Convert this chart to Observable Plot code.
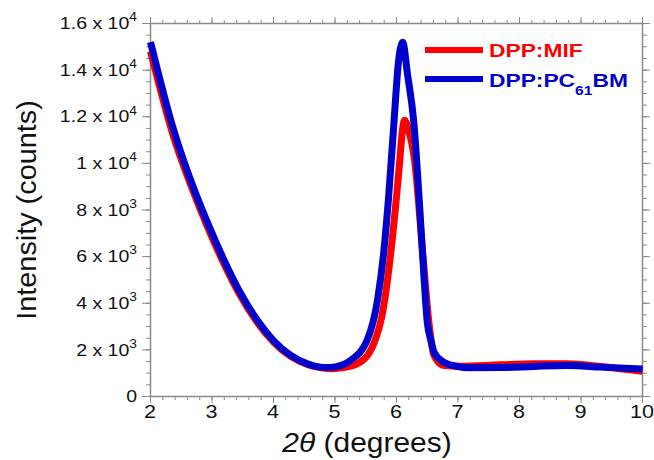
<!DOCTYPE html>
<html>
<head>
<meta charset="utf-8">
<script src="https://cdn.jsdelivr.net/npm/d3@7"></script>
<script src="https://cdn.jsdelivr.net/npm/@observablehq/plot@0.6"></script>
<style>
  html, body { margin: 0; padding: 0; background: #fff; }
  svg { font-family: "Liberation Sans", Arial, sans-serif; }
</style>
</head>
<body>
<div id="chart"></div>
<script>
// ---- data ----
const mifX = [2.00, 2.38, 2.65, 2.92, 3.19, 3.46, 3.73, 4.00, 4.28, 4.55, 4.76, 4.95, 5.10, 5.36, 5.63, 5.79, 5.90, 6.04, 6.10, 6.13, 6.20, 6.30, 6.40, 6.47, 6.53, 6.61, 6.77, 7.04, 7.69, 8.23, 8.77, 9.32, 10.00];
const mifY = [14800, 11100, 9100, 7320, 5720, 4330, 3200, 2340, 1720, 1380, 1240, 1190, 1230, 1400, 2260, 3830, 6000, 9700, 11500, 11850, 11400, 10000, 7000, 4800, 3100, 1760, 1330, 1300, 1360, 1400, 1400, 1290, 1080];

const pcbmX = [2.00, 2.38, 2.65, 2.92, 3.19, 3.46, 3.73, 4.00, 4.28, 4.55, 4.76, 4.87, 5.00, 5.25, 5.52, 5.69, 5.79, 5.87, 5.96, 6.03, 6.10, 6.18, 6.28, 6.38, 6.45, 6.50, 6.56, 6.61, 6.77, 7.00, 7.15, 7.70, 8.23, 8.77, 9.32, 10.00];
const pcbmY = [15200, 11400, 9300, 7500, 5880, 4450, 3300, 2400, 1760, 1400, 1260, 1240, 1270, 1545, 2400, 4120, 6130, 8500, 11800, 14300, 15200, 13800, 11800, 8000, 5000, 3200, 2400, 1900, 1470, 1280, 1230, 1240, 1290, 1330, 1260, 1180];

const seriesNames = ["DPP:MIF", "DPP:PC61BM"];
const seriesColors = ["#ff0000", "#0000cc"];

const xMajor = [2, 3, 4, 5, 6, 7, 8, 9, 10];
const xMinor = d3.range(2, 10.001, 0.2);
const yMajor = [0, 2000, 4000, 6000, 8000, 10000, 12000, 14000, 16000];
const yMinor = d3.range(0, 16001, 500);
const yMantissa = ["0", "2 x 10", "4 x 10", "6 x 10", "8 x 10", "1 x 10", "1.2 x 10", "1.4 x 10", "1.6 x 10"];
const yExponent = ["", "3", "3", "3", "3", "4", "4", "4", "4"];

const mif = mifX.map((x, i) => ({x, y: mifY[i]}));
const pcbm = pcbmX.map((x, i) => ({x, y: pcbmY[i]}));

const gray = "#8a8a8a";

const svg = Plot.plot({
  width: 654,
  height: 460,
  marginLeft: 150,
  marginRight: 12,
  marginTop: 23,
  marginBottom: 64,
  style: {fontFamily: '"Liberation Sans", Arial, sans-serif', background: "#fff"},
  x: {domain: [2, 10]},
  y: {domain: [0, 16000]},
  marks: [
    // minor ticks
    Plot.axisX({anchor: "bottom", ticks: xMinor, tickSize: 4, tickFormat: () => "", stroke: gray, label: null}),
    Plot.axisX({anchor: "top", ticks: xMinor, tickSize: 4, tickFormat: () => "", stroke: gray, label: null}),
    Plot.axisY({anchor: "left", ticks: yMinor, tickSize: 4, tickFormat: () => "", stroke: gray, label: null}),
    Plot.axisY({anchor: "right", ticks: yMinor, tickSize: 4, tickFormat: () => "", stroke: gray, label: null}),
    // major ticks
    Plot.axisX({anchor: "top", ticks: xMajor, tickSize: 7, tickFormat: () => "", stroke: gray, label: null}),
    Plot.axisY({anchor: "right", ticks: yMajor, tickSize: 7, tickFormat: () => "", stroke: gray, label: null}),
    Plot.axisX({anchor: "bottom", ticks: xMajor, tickSize: 7, tickFormat: () => "", stroke: gray, label: null}),
    Plot.axisY({anchor: "left", ticks: yMajor, tickSize: 8, tickFormat: () => "", stroke: gray, label: null}),
    Plot.frame({stroke: gray, strokeWidth: 1.5}),
    Plot.line(mif, {x: "x", y: "y", stroke: seriesColors[0], strokeWidth: 7, curve: "monotone-x", strokeLinejoin: "round", strokeLinecap: "butt"}),
    Plot.line(pcbm, {x: "x", y: "y", stroke: seriesColors[1], strokeWidth: 7, curve: "monotone-x", strokeLinejoin: "round", strokeLinecap: "butt"})
  ]
});

document.getElementById("chart").appendChild(svg);
const sel = d3.select(svg);
const xScale = svg.scale("x");
const yScale = svg.scale("y");

// y tick labels with superscripts, positioned through Plot's y scale (horizontally widened like the reference)
const yl = sel.append("g").attr("aria-label", "y tick labels").attr("fill", "#111");
yMajor.forEach((v, i) => {
  const g = yl.append("g").attr("transform", `translate(137,${yScale.apply(v)}) scale(1.15,1)`);
  const t = g.append("text")
    .attr("text-anchor", "end")
    .attr("dy", "0.36em")
    .style("font-size", "17px");
  t.append("tspan").text(yMantissa[i]);
  if (yExponent[i]) t.append("tspan").style("font-size", "12px").attr("dy", "-0.65em").text(yExponent[i]);
});

// x tick labels, positioned through Plot's x scale
const xl = sel.append("g").attr("aria-label", "x tick labels").attr("fill", "#111");
xMajor.forEach((v) => {
  xl.append("g").attr("transform", `translate(${xScale.apply(v)},418) scale(1.2,1)`)
    .append("text").attr("text-anchor", "middle").style("font-size", "18px").text(String(v));
});

// axis titles
sel.append("g").attr("transform", "translate(36,210) rotate(-90) scale(1.03,1)")
  .append("text")
  .attr("text-anchor", "middle")
  .style("font-size", "28px")
  .attr("fill", "#111")
  .text("Intensity (counts)");

const xt = sel.append("g").attr("transform", "translate(367,452) scale(1.07,1)")
  .append("text")
  .attr("text-anchor", "middle")
  .style("font-size", "28px")
  .attr("fill", "#111");
xt.append("tspan").attr("font-style", "italic").text("2θ");
xt.append("tspan").text(" (degrees)");

// legend
const leg = sel.append("g").attr("font-weight", "bold");
leg.append("line").attr("x1", 425).attr("x2", 483).attr("y1", 50).attr("y2", 50).attr("stroke", seriesColors[0]).attr("stroke-width", 6);
leg.append("g").attr("transform", "translate(489,57) scale(1.2,1)")
  .append("text").attr("text-anchor", "start").style("font-size", "19px").attr("fill", seriesColors[0]).text(seriesNames[0]);
leg.append("line").attr("x1", 425).attr("x2", 483).attr("y1", 79).attr("y2", 79).attr("stroke", seriesColors[1]).attr("stroke-width", 6);
const t2 = leg.append("g").attr("transform", "translate(489,87) scale(1.2,1)")
  .append("text").attr("text-anchor", "start").style("font-size", "19px").attr("fill", seriesColors[1]);
t2.append("tspan").text("DPP:PC");
t2.append("tspan").style("font-size", "13px").attr("dy", 8).text("61");
t2.append("tspan").attr("dy", -8).text("BM");
</script>
</body>
</html>
